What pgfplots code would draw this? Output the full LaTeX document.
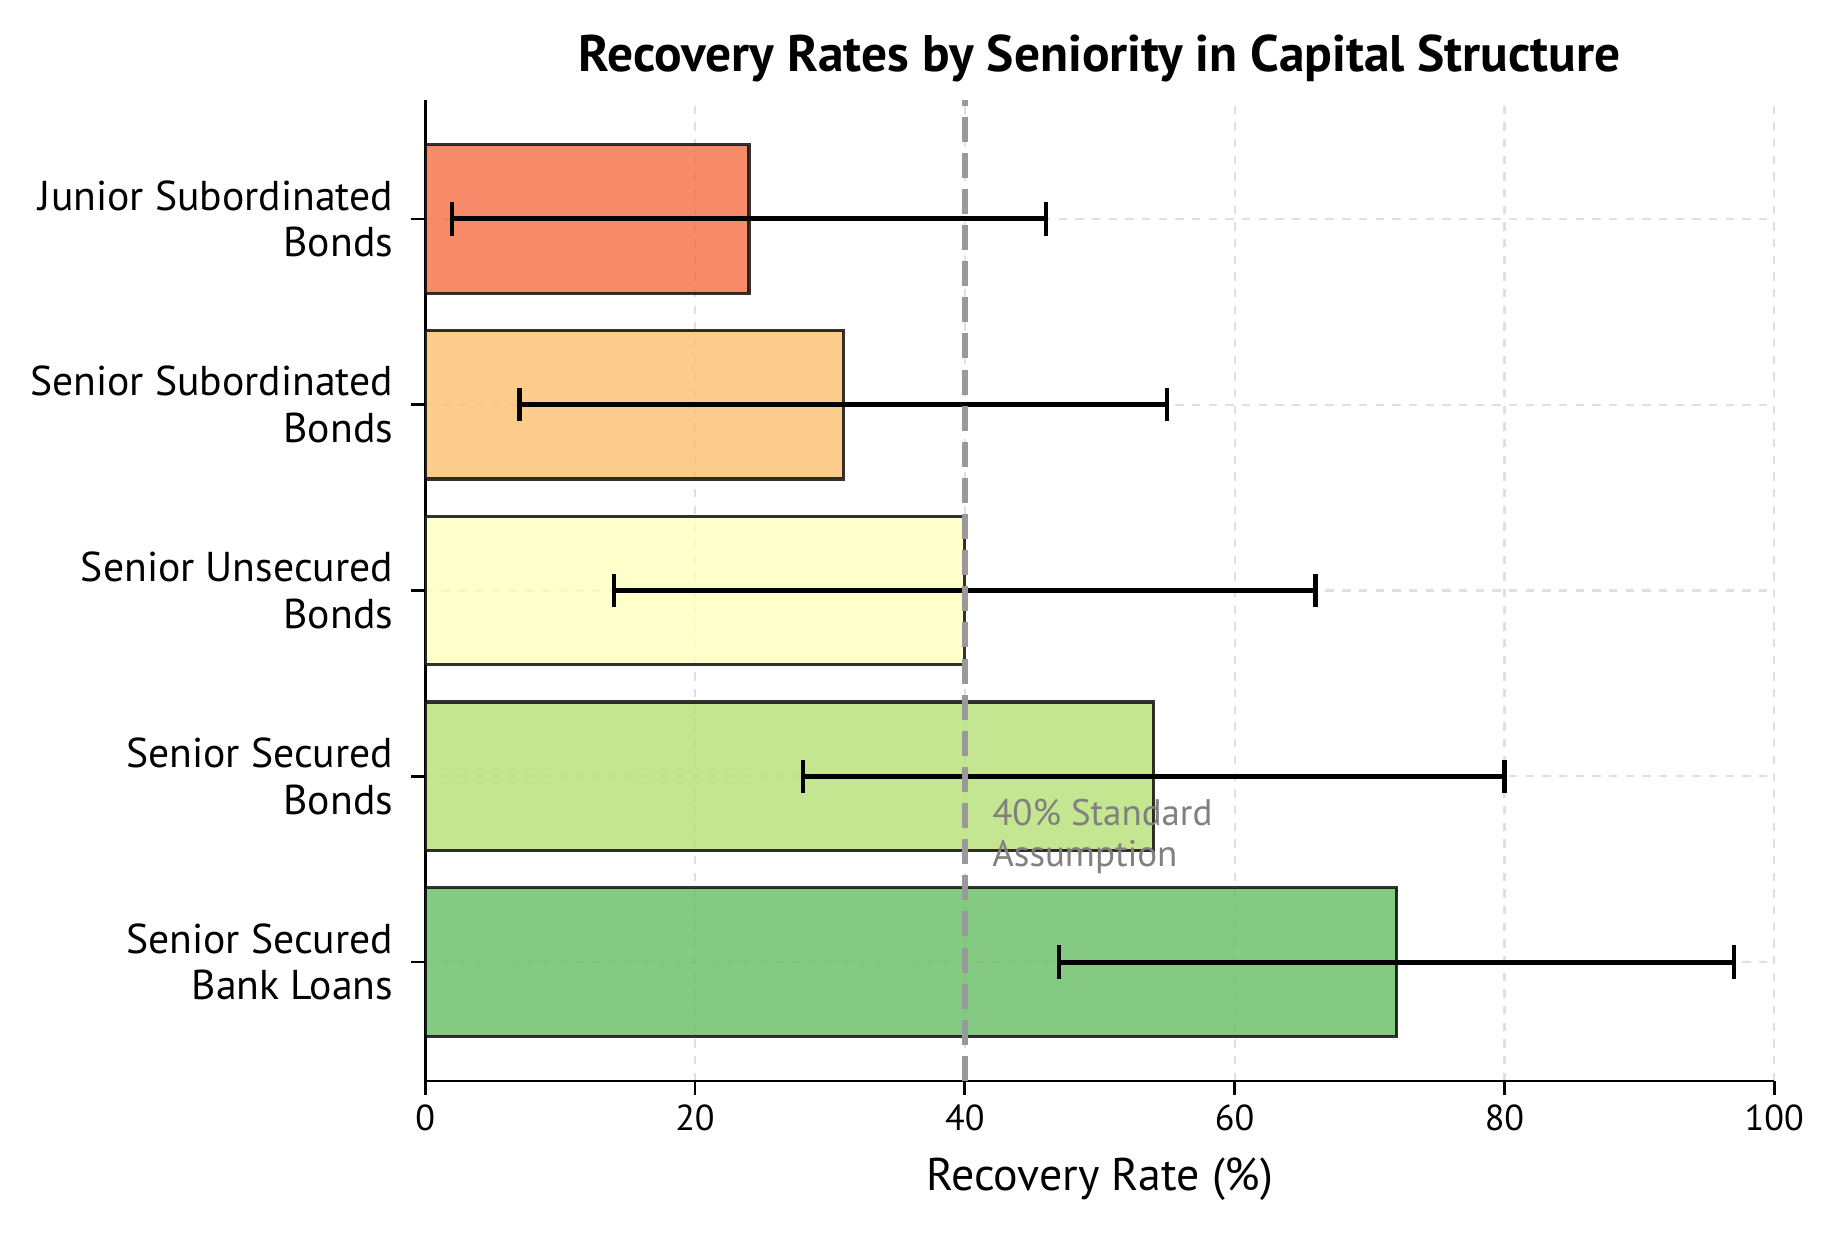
\documentclass[border=0pt]{standalone}
\usepackage{pgfplots}
\pgfplotsset{compat=1.18}
\usepackage{fontspec}
\setmainfont{PT Sans}
\definecolor{cJun}{HTML}{F46D43}
\definecolor{cSub}{HTML}{FDBF6F}
\definecolor{cUns}{HTML}{FEFFBE}
\definecolor{cSec}{HTML}{B7E075}
\definecolor{cBank}{HTML}{66BD63}
\pgfplotsset{
  rbar/.style={xbar, bar width=0.8, bar shift=0pt, fill=#1, fill opacity=0.8,
    draw=black, draw opacity=0.8, line width=1.2pt},
  rerr/.style={black, line width=1.8pt, mark=|, mark size=6pt,
    mark options={line width=1.6pt, solid}},
}
\begin{document}
\begin{tikzpicture}
\begin{axis}[
  scale only axis,
  width=485.5pt, height=353pt,
  xmin=0, xmax=100,
  ymin=-0.64, ymax=4.64,
  xtick={0,20,...,100},
  ytick={0,1,2,3,4},
  yticklabels={{Senior Secured\\Bank Loans},{Senior Secured\\Bonds},{Senior Unsecured\\Bonds},{Senior Subordinated\\Bonds},{Junior Subordinated\\Bonds}},
  yticklabel style={align=right, font=\fontsize{15}{16.8}\selectfont, xshift=-3pt},
  xticklabel style={font=\fontsize{13}{15}\selectfont},
  /pgf/number format/assume math mode=true,
  axis x line*=bottom, axis y line*=left,
  axis line style={line width=1pt, -},
  tick align=outside, major tick length=5pt,
  tick style={line width=1pt, black},
  xmajorgrids, ymajorgrids,
  grid style={dashed, black!12, line width=0.8pt},
  xlabel={Recovery Rate (\%)},
  xlabel style={font=\fontsize{16.5}{19}\selectfont, yshift=-3pt},
  title={Recovery Rates by Seniority in Capital Structure},
  title style={font=\fontsize{18.5}{22}\selectfont\bfseries, yshift=-3pt},
]
% bars: mean recovery
\addplot[rbar=cBank] coordinates {(72,0)};
\addplot[rbar=cSec]  coordinates {(54,1)};
\addplot[rbar=cUns]  coordinates {(40,2)};
\addplot[rbar=cSub]  coordinates {(31,3)};
\addplot[rbar=cJun]  coordinates {(24,4)};
% ranges (error bars)
\addplot[rerr] coordinates {(47,0) (97,0)};
\addplot[rerr] coordinates {(28,1) (80,1)};
\addplot[rerr] coordinates {(14,2) (66,2)};
\addplot[rerr] coordinates {(7,3) (55,3)};
\addplot[rerr] coordinates {(2,4) (46,4)};
% 40% line
\draw[gray!80, line width=2pt, dash pattern=on 9pt off 4pt] (axis cs:40,-0.64) -- (axis cs:40,4.64);
\node[anchor=south west, text=gray, align=left, inner sep=0pt, font=\fontsize{13.3}{15}\selectfont] at (axis cs:42,0.47) {40\% Standard\\Assumption};
\end{axis}
\path[use as bounding box] (-153pt,-55pt) rectangle (507pt,389pt);
\end{tikzpicture}
\end{document}
